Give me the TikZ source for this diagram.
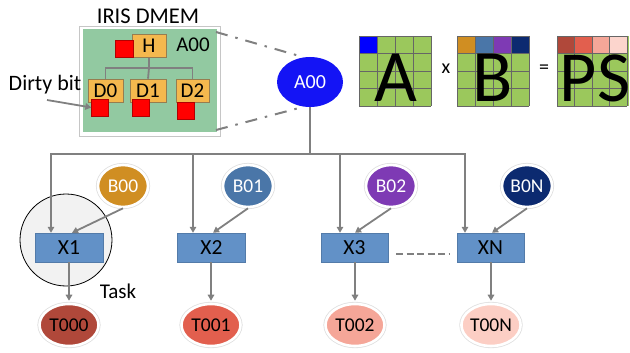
\documentclass[tikz,border=0pt]{standalone}
\usepackage{fontspec}
\setmainfont{Carlito}
\usetikzlibrary{arrows.meta,shapes.geometric}
\definecolor{dmemgreen}{RGB}{146,201,161}
\definecolor{matgreen}{RGB}{155,200,92}
\definecolor{obox}{RGB}{244,184,78}
\definecolor{oboxline}{RGB}{150,125,80}
\definecolor{xblue}{RGB}{98,145,199}
\definecolor{aoo}{RGB}{20,20,245}
\definecolor{cb0}{RGB}{208,142,34}
\definecolor{cb1}{RGB}{74,118,168}
\definecolor{cb2}{RGB}{126,58,180}
\definecolor{cbn}{RGB}{12,42,112}
\definecolor{ct0}{RGB}{176,72,58}
\definecolor{ct1}{RGB}{226,95,78}
\definecolor{ct2}{RGB}{245,166,152}
\definecolor{ctn}{RGB}{252,206,196}
\definecolor{conn}{RGB}{128,128,128}
\tikzset{
  txt/.style={font=\fontsize{21}{23}\selectfont, inner sep=0},
  obx/.style={draw=oboxline, fill=obox, line width=0.6pt, minimum width=34, minimum height=23, inner sep=0, font=\fontsize{21}{22}\selectfont},
  redsq/.style={fill=red, draw=red!70!black, line width=0.3pt, minimum width=17, minimum height=17, inner sep=0},
  tree/.style={draw=conn, line width=1.8pt},
  cline/.style={draw=conn, line width=1.8pt},
  arr/.style={cline, -{Triangle[length=6pt,width=6.5pt]}},
  xbox/.style={fill=xblue, draw=xblue!85!black, line width=0.4pt, minimum width=68, minimum height=29, inner sep=0, font=\fontsize{21.5}{22}\selectfont},
  oval/.style={ellipse, inner sep=0, preaction={draw=gray!25, line width=4.2pt}, draw=white, line width=2.6pt, font=\fontsize{19.5}{20}\selectfont},
  bov/.style={oval, minimum width=50, minimum height=42, text=white},
  tov/.style={oval, minimum width=59, minimum height=42, text=black},
  cell/.style={draw=black!60, line width=0.7pt},
  dashdot/.style={draw=conn, line width=2pt, dash pattern=on 12pt off 8pt on 2.5pt off 8pt}
}
\begin{document}
\begin{tikzpicture}[x=1pt,y=-1pt]
\useasboundingbox (0,0) rectangle (630,353);

% ---------- DMEM box ----------
\node[inner sep=0, font=\fontsize{22.5}{24}\selectfont] (title) at (148,16) {IRIS DMEM};
\node[draw=gray!45, fill=white, line width=0.8pt, minimum width=141, minimum height=110, inner sep=0] (dm) at (149.5,81) {};
\fill[dmemgreen] (83,29) rectangle (217,132);
\node[obx] (H) at (149,46) {H};
\node[redsq, minimum width=18] (rh) at (124,48.5) {};
\node[txt] (alab) at (193,45) {A00};
\node[obx, minimum width=35] (D0) at (105.5,90.5) {D0};
\node[obx, minimum width=36] (D1) at (148,90.5) {D1};
\node[obx, minimum width=33] (D2) at (192.5,90.5) {D2};
\coordinate (hj) at (149,68);
\draw[tree] (H.south) -- (hj);
\draw[tree] (hj) -| (D0.north);
\draw[tree] (hj) -| (D2.north);
\draw[tree] (hj) -- (D1.north);
\node[redsq] (r0) at (100,107.5) {};
\node[redsq] (r1) at (140.5,107.5) {};
\node[redsq] (r2) at (185.5,110.5) {};
\node[inner sep=0, font=\fontsize{22}{23}\selectfont] (dirty) at (45,85) {Dirty bit};
\coordinate (ds) at (47,100);
\draw[cline, -{Triangle[length=6pt,width=6.5pt]}] (ds) -- (r0.west);

% ---------- A00 ----------
\node[ellipse, fill=aoo, minimum width=66, minimum height=50, inner sep=0, text=white, font=\fontsize{20}{20}\selectfont] (A) at (310,82) {A00};
\coordinate (d1) at (216,32);
\coordinate (d2) at (216,130);
\draw[dashdot] (d1) -- (A.104);
\draw[dashdot] (d2) -- (A.256);

% ---------- matrices ----------
\foreach \i in {0,...,3}{\foreach \j in {0,...,3}{
  \fill[matgreen] (359+18*\i,36+17.5*\j) rectangle ++(18,17.5);
  \fill[matgreen] (457+18*\i,36+17.5*\j) rectangle ++(18,17.5);
  \fill[matgreen] (557+18*\i,36+17.5*\j) rectangle ++(17.5,17.5);
}}
\fill[blue] (359,36) rectangle ++(18,17.5);
\fill[cb0] (457,36) rectangle ++(18,17.5);
\fill[cb1] (475,36) rectangle ++(18,17.5);
\fill[cb2] (493,36) rectangle ++(18,17.5);
\fill[cbn] (511,36) rectangle ++(18,17.5);
\fill[ct0] (557,36) rectangle ++(17.5,17.5);
\fill[ct1] (574.5,36) rectangle ++(17.5,17.5);
\fill[ct2] (592,36) rectangle ++(17.5,17.5);
\fill[ctn!85!white] (609.5,36) rectangle ++(17.5,17.5);
\foreach \k in {0,...,4}{
  \draw[cell] (359+18*\k,36) -- ++(0,70);
  \draw[cell] (359,36+17.5*\k) -- ++(72,0);
  \draw[cell] (457+18*\k,36) -- ++(0,70);
  \draw[cell] (457,36+17.5*\k) -- ++(72,0);
  \draw[cell] (557+17.5*\k,36) -- ++(0,70);
  \draw[cell] (557,36+17.5*\k) -- ++(70,0);
}
\node[anchor=base, inner sep=0, font=\fontsize{74}{74}\selectfont] (mA) at (396,102) {A};
\node[anchor=base, inner sep=0, font=\fontsize{74}{74}\selectfont] (mB) at (493,102) {B};
\node[anchor=base, inner sep=0, font=\fontsize{72}{72}\selectfont] (mPS) at (595,102) {PS};
\node[inner sep=0, font=\fontsize{20}{20}\selectfont] (times) at (446,69) {x};
\node[inner sep=0, font=\fontsize{20}{20}\selectfont] (eq) at (544,69) {=};

% ---------- task circle ----------
\node[circle, draw=black, fill=gray!10, line width=0.8pt, minimum size=92, inner sep=0] (task) at (66,240) {};
\node[txt] (tasklab) at (118,291) {Task};

% ---------- X boxes ----------
\node[xbox] (X1) at (69,247.5) {X1};
\node[xbox] (X2) at (211.5,247.5) {X2};
\node[xbox, minimum width=67] (X3) at (354.5,247.5) {X3};
\node[xbox, minimum width=67] (XN) at (490.5,247.5) {XN};

% ---------- bus ----------
\coordinate (b1) at (51,154);
\coordinate (b2) at (193,154);
\coordinate (b3) at (340,154);
\coordinate (b4) at (465,154);
\draw[cline] (A.south) -- (A.south |- b1);
\draw[cline, line cap=rect] (b1) -- (b4);
\draw[arr] (b1) -- (b1 |- X1.north);
\draw[arr] (b2) -- (b2 |- X2.north);
\draw[arr] (b3) -- (b3 |- X3.north);
\draw[arr] (b4) -- (b4 |- XN.north);

% ---------- B ovals ----------
\node[bov, fill=cb0] (B0) at (123,186) {B00};
\node[bov, fill=cb1] (B1) at (248,186) {B01};
\node[bov, fill=cb2] (B2) at (391,186) {B02};
\node[bov, fill=cbn] (BN) at (527,186) {B0N};
\draw[arr] (B0.south) -- ([xshift=3pt]X1.north);
\draw[arr] (B1.south) -- ([xshift=1.5pt]X2.north);
\draw[arr] (B2.south) -- ([xshift=0.5pt]X3.north);
\draw[arr] (BN.south) -- ([xshift=1.5pt]XN.north);

% ---------- T ovals ----------
\node[tov, fill=ct0] (T0) at (69,325) {T000};
\node[tov, fill=ct1] (T1) at (211,325) {T001};
\node[tov, fill=ct2] (T2) at (355,325) {T002};
\node[tov, fill=ctn] (TN) at (491,325) {T00N};
\draw[arr, shorten >=2pt] (X1.south -| T0.north) -- (T0.north);
\draw[arr, shorten >=2pt] (X2.south -| T1.north) -- (T1.north);
\draw[arr, shorten >=2pt] (X3.south -| T2.north) -- (T2.north);
\draw[arr, shorten >=2pt] (XN.south -| TN.north) -- (TN.north);

% ---------- dashed link ----------
\draw[cline, dash pattern=on 7pt off 3.5pt] ([shift={(8,6.5)}]X3.east) -- ([shift={(-7,6.5)}]XN.west);
\end{tikzpicture}
\end{document}
